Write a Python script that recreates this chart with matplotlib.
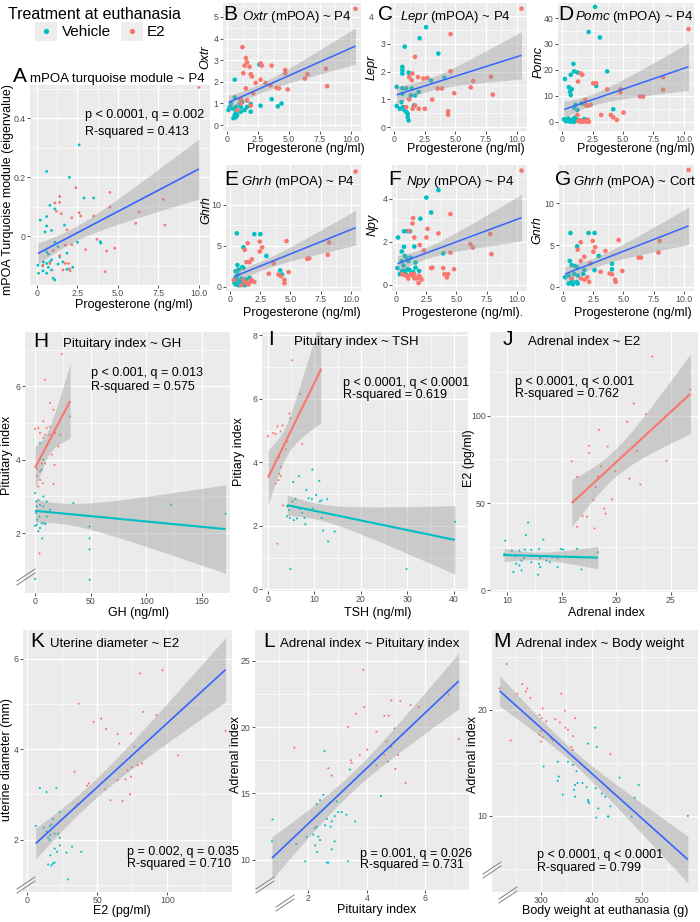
import numpy as np
import matplotlib
matplotlib.use('Agg')
import matplotlib.pyplot as plt
from matplotlib.lines import Line2D
from matplotlib.patches import Rectangle
from matplotlib.ticker import FixedLocator, FuncFormatter
from matplotlib.transforms import ScaledTranslation

plt.rcParams['font.family'] = ['Liberation Sans', 'DejaVu Sans']
plt.rcParams['mathtext.fontset'] = 'custom'
plt.rcParams['mathtext.it'] = 'Liberation Sans:italic'
plt.rcParams['mathtext.rm'] = 'Liberation Sans'

RED = '#F8766D'
CYAN = '#00BFC4'
BLUE = '#3366FF'
W, H = 700, 922

# ---- A: mPOA turquoise module ~ P4
a_veh_x = [2.6, 0.6, 2.0, 2.9, 3.5, 0.8, 1.1, 0.2, 0.6, 0.6, 0.5, 0.9, 1.7, 1.1, 1.3, 2.5, 3.9, 3.95, 0.6, 0.7,
           1.85, 1.4, 1.6, 0.4, 0.6, 0.8, 0.9, 0.06, 0.35, 0.7, 0.9, 0.37, 0.1, 0.6, 1.0, 1.1, 1.85, 2.2, 1.3]
a_veh_y = [0.31, 0.22, 0.20, 0.13, 0.13, 0.105, 0.093, 0.055, 0.067, 0.035, 0.015, 0.02, 0.038, -0.02, -0.035,
           -0.02, -0.018, -0.023, -0.053, -0.06, -0.057, -0.07, -0.087, -0.087, -0.092, -0.087, -0.08, -0.098,
           -0.10, -0.105, -0.114, -0.117, -0.125, -0.125, -0.142, -0.148, -0.112, -0.105, -0.094]
a_e2_x = [10.0, 2.4, 1.4, 1.1, 1.4, 1.2, 1.5, 2.6, 2.7, 2.15, 3.5, 4.5, 4.5, 7.8, 6.3, 6.1, 7.9, 1.85, 3.7, 3.0,
          4.8, 4.3, 4.2, 1.0, 1.4, 0.8, 0.37, 1.75, 1.6, 1.95, 2.0, 2.05, 2.15, 1.75]
a_e2_y = [0.505, 0.165, 0.135, 0.113, 0.115, 0.085, 0.077, 0.08, 0.069, 0.063, 0.069, 0.149, 0.099, 0.125, 0.083,
          0.044, 0.038, 0.022, -0.01, -0.045, -0.04, -0.05, -0.12, -0.048, -0.065, -0.092, -0.098, -0.092, -0.114,
          -0.092, -0.11, -0.117, -0.028, -0.03]

# ---- B: Oxtr
b_e2_x = [10.4, 1.23, 1.5, 1.6, 1.4, 1.8, 1.9, 2.0, 1.3, 2.7, 2.8, 3.6, 4.7, 4.7, 6.3, 6.5, 8.0, 8.1, 2.7, 2.3,
          3.1, 1.5, 2.1, 4.0, 4.2, 4.9, 3.5, 1.1, 1.6, 1.1, 0.8, 1.9]
b_e2_y = [5.37, 3.6, 3.1, 2.9, 2.75, 2.7, 2.35, 2.25, 2.4, 2.85, 2.75, 2.75, 2.55, 2.4, 2.15, 2.35, 2.6, 1.8, 2.1,
          1.95, 1.95, 1.7, 1.47, 1.72, 1.7, 1.65, 1.84, 1.0, 1.13, 1.2, 0.7, 0.9]
b_veh_x = [0.6, 2.6, 3.6, 4.4, 4.1, 2.7, 0.6, 0.3, 0.1, 0.45, 0.7, 1.0, 1.1, 0.7, 0.6, 0.8, 1.1, 1.4, 1.6, 1.9,
           0.5, 0.7, 1.9, 1.2, 0.2, 1.05]
b_veh_y = [2.1, 2.8, 1.2, 1.0, 0.87, 0.9, 1.28, 1.0, 0.7, 0.77, 0.84, 0.98, 0.84, 0.62, 0.47, 0.47, 0.62, 0.7,
           0.84, 0.62, 0.32, 0.37, 0.98, 1.06, 0.84, 1.2]

# ---- C: Lepr
c_veh_x = [2.6, 0.85, 2.07, 3.6, 0.66, 0.66, 0.66, 1.17, 0.2, 0.66, 0.97, 1.43, 0.66, 1.35, 1.7, 1.99, 3.0, 4.1,
           0.2, 0.59, 0.7, 0.84, 1.0, 1.1, 1.1, 1.17, 0.46, 1.6]
c_veh_y = [3.6, 2.9, 3.2, 2.65, 2.17, 2.05, 1.93, 1.96, 1.45, 1.4, 1.39, 1.39, 1.2, 1.14, 1.14, 1.27, 1.68, 1.78,
           0.76, 0.9, 0.72, 0.6, 0.54, 0.48, 0.36, 0.24, 0.66, 0.78]
c_e2_x = [10.4, 1.7, 4.6, 1.48, 1.22, 1.43, 1.94, 2.37, 2.7, 3.55, 3.9, 3.1, 4.4, 4.4, 4.6, 4.9, 6.25, 6.46, 7.9,
          8.05, 0.97, 1.5, 1.7, 2.0, 2.5, 1.22]
c_e2_y = [4.27, 2.53, 3.35, 1.93, 1.8, 1.69, 1.8, 1.75, 1.77, 1.39, 1.39, 0.99, 0.57, 0.45, 2.01, 1.22, 1.43, 1.66,
          1.81, 1.17, 0.72, 0.66, 0.78, 0.66, 0.66, 1.0]

# ---- D: Pomc (dense cluster near zero includes overplotted points)
d_veh_x = [2.7, 2.17, 3.1, 0.92, 0.97, 1.25, 0.7, 0.22, 0.55, 0.78, 0.64, 0.7, 3.7, 2.8, 1.1, 0.97, 1.25, 1.6, 4.2,
           0.15, 0.55, 0.83, 0.97, 1.15, 1.4, 1.8, 1.95, 2.1, 0.97, 0.7, 0.3, 0.45, 0.6, 0.75, 0.9, 1.05, 1.2,
           1.35, 0.5, 1.0]
d_veh_y = [44.3, 34.6, 32.5, 22.3, 19.4, 19.0, 18.1, 16.5, 13.3, 12.5, 11.6, 10.3, 19.4, 13.8, 6.5, 5.4, 4.5, 7.1,
           4.8, 0.9, 0.4, 0.4, 0.9, 0.65, 0.4, 1.0, 0.65, 0.3, 0.0, 0.0, 0.2, 0.5, 0.2, 0.6, 0.3, 0.2, 0.8, 0.3,
           1.2, 1.5]
d_e2_x = [10.4, 1.5, 1.65, 1.3, 2.55, 2.8, 3.7, 4.8, 4.8, 6.4, 6.65, 8.3, 8.3, 1.9, 1.9, 2.1, 2.35, 1.25, 3.2, 4.0,
          4.2, 4.5, 5.05, 1.45, 1.7, 2.0, 2.2, 1.3, 1.6, 1.85, 2.1]
d_e2_y = [35.7, 18.7, 18.1, 15.5, 14.8, 14.8, 12.5, 12.5, 11.4, 9.7, 9.7, 17.2, 12.3, 8.4, 6.5, 6.1, 6.5, 2.6, 2.6,
          2.6, 1.7, 0.65, 3.5, 0.0, 0.0, 0.0, 0.0, 0.3, 0.5, 0.2, 0.8]

# ---- E: Ghrh
e_e2_x = [10.4, 1.2, 1.45, 2.45, 2.65, 2.45, 4.67, 8.2, 8.1, 6.4, 6.55, 1.8, 1.6, 1.35, 3.6, 4.0, 4.2, 4.85, 3.2,
          4.5, 4.5, 1.75, 2.0, 1.3, 0.3, 1.5, 1.1, 0.9, 1.65]
e_e2_y = [14.0, 4.5, 5.3, 5.5, 4.8, 4.3, 5.56, 5.4, 3.9, 3.4, 3.45, 3.35, 3.0, 3.0, 2.85, 1.5, 1.3, 1.8, 1.6, 0.85,
          0.45, 0.85, 0.6, 0.5, 0.85, 0.3, 0.8, 0.2, 0.6]
e_veh_x = [0.55, 2.0, 2.5, 1.1, 3.0, 1.0, 0.6, 0.45, 0.7, 1.1, 4.15, 4.3, 0.45, 0.6, 0.9, 1.1, 1.3, 1.6, 0.45, 0.7,
           1.0, 0.5, 0.8, 0.95, 1.2, 0.65, 0.35]
e_veh_y = [6.5, 6.4, 6.4, 4.8, 3.75, 2.4, 2.65, 1.9, 2.1, 2.3, 2.0, 1.5, 1.1, 0.9, 0.7, 0.5, 0.9, 1.1, 0.3, 0.2, 0.3,
           0.6, 0.4, 1.0, 0.2, 1.5, 0.5]

# ---- F: Npy
f_veh_x = [3.5, 2.9, 3.9, 0.15, 0.64, 0.9, 1.15, 2.5, 2.0, 1.5, 0.64, 0.46, 0.7, 0.85, 1.0, 1.2, 1.6, 0.1, 0.5, 0.7,
           0.95, 1.25, 1.6, 1.9, 0.3, 0.6, 0.8, 1.1, 1.4, 0.45]
f_veh_y = [4.4, 3.36, 1.46, 2.2, 2.49, 2.49, 2.49, 4.05, 3.07, 1.78, 1.77, 1.55, 1.35, 1.27, 1.1, 1.27, 1.04, 0.78,
           0.65, 0.65, 0.72, 0.56, 0.8, 0.65, 0.5, 0.9, 0.5, 0.7, 0.6, 1.1]
f_e2_x = [10.4, 4.5, 3.5, 4.5, 3.0, 3.9, 4.0, 4.2, 4.3, 4.8, 6.15, 6.36, 7.8, 7.9, 1.4, 1.35, 1.05, 1.5, 1.95, 2.3,
          2.6, 2.5, 0.5, 0.9, 1.2, 1.5, 1.9, 2.0, 1.85, 2.1, 1.5, 2.9, 0.7, 1.0, 1.3, 1.7]
f_e2_y = [5.3, 3.29, 2.39, 1.5, 0.8, 0.78, 0.5, 0.35, 0.5, 0.73, 1.89, 1.73, 2.36, 1.43, 3.1, 2.85, 2.5, 2.2, 1.85,
          1.6, 2.6, 2.2, 0.5, 0.42, 0.5, 0.5, 0.42, 0.34, 0.09, 0.25, 0.31, 0.78, 0.45, 0.3, 0.45, 0.3]

# ---- G: Gnrh
g_veh_x = [0.6, 2.1, 2.6, 1.15, 2.95, 0.55, 0.7, 0.95, 1.15, 2.6, 4.05, 4.05, 0.15, 0.45, 0.9, 1.2, 1.65, 1.75, 0.7,
           1.1, 0.45, 0.8, 1.2]
g_veh_y = [6.45, 6.45, 6.45, 4.85, 3.7, 3.1, 2.6, 2.5, 2.35, 2.0, 2.75, 2.1, 1.15, 1.35, 1.55, 1.35, 1.55, 2.0, 0.7,
           0.6, 0.4, 0.3, 0.4]
g_e2_x = [10.4, 1.45, 2.45, 2.65, 2.5, 4.6, 1.2, 3.5, 8.0, 7.9, 6.25, 6.45, 1.75, 1.45, 2.25, 3.1, 3.85, 4.05, 4.9,
          4.3, 4.35, 2.0, 1.75, 2.15, 0.7, 1.45]
g_e2_y = [14.0, 5.35, 5.5, 4.75, 4.2, 5.6, 4.45, 4.3, 5.5, 4.1, 3.5, 3.5, 3.6, 3.1, 2.8, 1.8, 1.6, 1.5, 1.9, 0.85,
          0.6, 1.15, 0.85, 0.6, 1.0, 1.0]

# ---- H: Pituitary index ~ GH
h_e2_x = [24, 9, 13.5, 16.5, 0, 3, 7.5, 10.5, 4.5, 7.5, 9, 13.5, 13, 18, 21, 22.5, 15, 17.5, 4, 6, 9, 2, 4.5, 1.5,
          4.5, 3, 7, 16.5, 4, 31.5]
h_e2_y = [6.88, 6.18, 5.55, 5.36, 4.84, 4.86, 5.05, 4.86, 4.73, 4.6, 4.68, 4.9, 4.68, 4.73, 4.36, 4.68, 4.14, 3.86,
          4.0, 3.9, 3.9, 3.75, 3.68, 3.55, 3.45, 3.27, 3.36, 3.34, 1.45, 5.18]
h_veh_x = [4.5, 7, 7.5, 6, 0, 1, 3, 7.5, 1.5, 4.5, 7.5, 10.5, 13.5, 1, 4, 6, 10.5, 2, 6, 8, 9.5, 1.5, 0, 4.5, 3, 6.5,
           34.5, 49, 49, 49, 49, 0, 122, 171]
h_veh_y = [4.45, 4.18, 4.0, 3.73, 3.09, 2.86, 2.9, 3.0, 2.73, 2.77, 2.73, 2.86, 2.64, 2.55, 2.45, 2.59, 2.45, 2.36,
           2.27, 2.27, 2.25, 2.23, 2.2, 2.14, 2.05, 1.86, 2.82, 2.18, 1.86, 1.56, 0.73, 0.75, 2.77, 2.53]

# ---- I: Pituitary index ~ TSH
i_e2_x = [5.3, 11.4, 7.0, 4.7, 4.9, 3.2, 2.1, 1.2, 0.1, 1.75, 2.8, 4.2, 7.4, 3.9, 2.5, 2.8, 2.5, 2.8, 2.3, 1.75,
          3.3, 2.1]
i_e2_y = [7.21, 6.92, 6.15, 5.54, 5.38, 5.16, 5.13, 4.92, 4.82, 4.89, 4.97, 4.65, 4.58, 4.41, 4.15, 3.85, 3.64, 3.56,
          3.44, 3.33, 2.64, 1.44]
i_veh_x = [9.6, 6.7, 11.1, 5.5, 8.3, 8.8, 9.5, 12.8, 10.4, 11.2, 11.6, 5.3, 4.2, 4.6, 6.0, 6.9, 9.7, 4.2, 4.8, 5.6,
           6.3, 7.9, 8.1, 7.4, 11.6, 11.9, 14.4, 13.0, 4.9, 29.8, 40.2]
i_veh_y = [3.77, 3.56, 3.42, 3.38, 3.13, 2.87, 2.84, 2.84, 2.97, 2.77, 2.8, 2.77, 2.61, 2.5, 2.84, 2.53, 2.55, 2.3,
           2.25, 2.18, 2.23, 2.25, 2.05, 2.41, 2.25, 1.85, 1.82, 1.51, 0.64, 0.64, 2.13]

# ---- J: Adrenal index ~ E2
j_e2_x = [23.3, 21.6, 22.7, 21.0, 17.5, 19.2, 17.5, 15.9, 21.9, 18.4, 24.6, 18.6, 19.9, 21.2, 16.4, 18.3, 22.2, 18.1,
          17.9, 19.6, 18.9, 19.0, 16.9, 17.3, 18.0, 16.4, 26.8]
j_e2_y = [134, 107, 101, 96.6, 82.8, 82.4, 78.6, 73.9, 79.9, 91.9, 74.2, 71.0, 68.2, 64.0, 65.0, 65.3, 60.6, 59.1,
          51.7, 52.1, 46.8, 43.9, 42.6, 42.2, 35.4, 36.4, 115]
j_veh_x = [11.9, 11.7, 13.3, 9.8, 9.7, 9.7, 10.4, 11.1, 11.6, 12.2, 12.9, 14.9, 15.1, 16.4, 18.3, 10.7, 11.5, 12.1,
           13.0, 13.5, 14.1, 14.6, 13.6, 12.9, 12.2, 11.3, 10.8, 11.1, 10.55, 11.3, 12.8, 13.0, 14.6, 16.8, 13.9]
j_veh_y = [38.8, 31.6, 29.0, 28.4, 20.8, 19.9, 22.7, 22.7, 23.3, 23.1, 23.7, 23.7, 23.3, 23.7, 21.8, 19.5, 18.4, 19.5,
           18.4, 19.5, 18.9, 18.4, 17.0, 15.2, 16.1, 17.0, 15.2, 14.2, 10.4, 11.4, 8.9, 13.3, 13.3, 11.9, 16.1]

# ---- K: Uterine diameter ~ E2
k_e2_x = [96.5, 80.4, 36.6, 82.7, 92.2, 52.7, 47.3, 141.4, 56.3, 64.5, 74, 65.7, 76.4, 107.6, 81.8, 78.7, 74.7, 71.6,
          33.8, 74, 70, 64.5, 44, 42.8, 55.8, 73.3, 59.3, 68, 35.5]
k_e2_y = [5.74, 5.67, 5.0, 4.82, 4.75, 4.67, 4.6, 4.4, 4.44, 4.33, 4.34, 4.12, 4.05, 3.86, 3.68, 3.64, 3.6, 3.53, 3.5,
          3.39, 3.33, 3.31, 3.24, 3.19, 3.11, 3.0, 2.87, 2.85, 2.78]
k_veh_x = [9, 13.7, 20.8, 23.2, 18.4, 17.3, 16, 11.8, 6.1, 13.7, 16.5, 19.6, 22, 23.2, 16, 14.9, 19.6, 23.2, 21.3, 32,
           28, 38.5, 16.5, 14.9, 17.3, 18.4, 19.6, 29]
k_veh_y = [3.14, 3.05, 3.14, 2.61, 2.45, 2.33, 2.3, 2.26, 2.3, 2.18, 2.1, 2.13, 2.13, 2.04, 1.99, 2.04, 1.8, 1.87,
           1.73, 1.84, 1.71, 1.73, 1.65, 1.45, 1.43, 1.47, 1.49, 1.12]

# ---- L: Adrenal index ~ Pituitary index
l_e2_x = [3.88, 3.91, 3.63, 4.84, 5.15, 5.5, 5.78, 6.8, 7.15, 4.6, 4.75, 3.36, 4.33, 4.95, 4.01, 1.52, 3.76, 4.67,
          4.84, 3.45, 3.48, 4.6, 5.07, 4.72, 4.33, 2.68, 4.98, 2.8, 5.33]
l_e2_y = [24.3, 21.5, 21.0, 22.0, 21.95, 21.65, 21.5, 22.45, 19.1, 20.85, 20.85, 20.0, 19.65, 19.9, 18.3, 18.45, 17.9,
          18.9, 18.5, 17.5, 17.3, 17.9, 17.9, 17.4, 17.1, 16.9, 16.85, 16.35, 15.8]
l_veh_x = [2.55, 0.77, 0.75, 3.42, 4.48, 2.51, 2.4, 2.28, 2.97, 3.02, 3.14, 3.3, 2.9, 2.63, 2.8, 2.57, 2.28, 2.23,
           3.6, 2.76, 2.17, 2.34, 1.94, 2.23, 2.4, 2.9, 2.8, 2.3, 1.89, 2.63, 2.68, 3.36, 1.58]
l_veh_y = [18.2, 13.05, 11.4, 16.8, 14.8, 14.9, 14.5, 14.2, 14.4, 13.6, 13.6, 13.4, 13.3, 13.1, 12.9, 12.6, 12.5, 12.4,
           12.9, 12.5, 11.9, 11.75, 11.75, 11.1, 11.5, 11.4, 10.8, 10.6, 9.9, 9.8, 9.8, 9.9, 11.2]

# ---- M: Adrenal index ~ Body weight
m_e2_x = [232, 263, 273, 253, 270, 279, 340, 240, 303, 297, 301, 310, 328, 347, 367, 337, 348, 353, 300, 308, 297, 303,
          319, 323, 300, 363, 360, 363, 437, 218]
m_e2_y = [24.3, 22.4, 22.0, 21.5, 21.7, 21.1, 21.5, 17.1, 20.1, 19.5, 19.2, 18.9, 19.1, 19.9, 19.2, 18.8, 18.3, 18.1,
          18.0, 17.95, 17.6, 17.4, 17.3, 17.1, 17.0, 17.5, 16.5, 16.2, 15.8, 22.0]
m_veh_x = [407, 393, 410, 305, 353, 363, 333, 335, 333, 370, 455, 493, 367, 372, 382, 390, 365, 343, 367, 420, 427, 408,
           393, 393, 395, 485, 437, 413, 433, 432, 409, 590, 479]
m_veh_y = [18.3, 16.8, 16.5, 14.65, 15.1, 14.8, 15.1, 13.7, 13.3, 14.2, 13.6, 12.9, 12.9, 13.1, 13.1, 12.7, 12.45, 12.0,
           11.8, 12.1, 11.8, 12.6, 11.5, 11.35, 11.2, 11.7, 10.9, 10.7, 9.94, 9.94, 9.85, 10.0, 9.94]

fig = plt.figure(figsize=(7, 9.22), dpi=100)


def fmt_dec(v, pos):
    return '0' if abs(v) < 1e-9 else f'{v:.1f}'


def fmt_int(v, pos):
    return f'{v:.0f}'


def panel(box, xlim, ylim, xticks, yticks, xfmt=fmt_int, yfmt=fmt_int):
    l, t, r, b = box
    ax = fig.add_axes([l / W, 1 - b / H, (r - l) / W, (b - t) / H])
    ax.set_facecolor('#EBEBEB')
    for s in ax.spines.values():
        s.set_visible(False)
    ax.set_xlim(xlim)
    ax.set_ylim(ylim)
    xt = np.asarray(xticks, float)
    yt = np.asarray(yticks, float)
    ax.xaxis.set_major_locator(FixedLocator(xt))
    ax.yaxis.set_major_locator(FixedLocator(yt))
    dx, dy = xt[1] - xt[0], yt[1] - yt[0]
    ax.xaxis.set_minor_locator(FixedLocator(np.arange(xt[0] - 4 * dx, xt[-1] + 4 * dx, dx) + dx / 2))
    ax.yaxis.set_minor_locator(FixedLocator(np.arange(yt[0] - 4 * dy, yt[-1] + 4 * dy, dy) + dy / 2))
    ax.xaxis.set_major_formatter(FuncFormatter(xfmt))
    ax.yaxis.set_major_formatter(FuncFormatter(yfmt))
    ax.grid(which='major', color='white', lw=0.9)
    ax.grid(which='minor', color='white', lw=0.45)
    ax.tick_params(which='major', length=2.2, width=0.6, color='#333333', labelsize=6.3,
                   labelcolor='#4D4D4D', pad=1.0)
    ax.tick_params(which='minor', length=0)
    ax.set_axisbelow(True)
    return ax


def labels(ax, box, xlabel, xpos, ylabel, ypos, yitalic=False):
    l, t, r, b = box
    ax.set_xlabel(xlabel, fontsize=9)
    ax.xaxis.set_label_coords((xpos[0] - l) / (r - l), (b - xpos[1]) / (b - t))
    ax.xaxis.label.set_va('center')
    ax.set_ylabel(ylabel, fontsize=9, fontstyle='italic' if yitalic else 'normal')
    ax.yaxis.set_label_coords((ypos[0] - l) / (r - l), (b - ypos[1]) / (b - t))
    ax.yaxis.label.set_va('center')


def smooth(ax, x, y, color, lw):
    x = np.asarray(x, float)
    y = np.asarray(y, float)
    n = len(x)
    slope, icpt = np.polyfit(x, y, 1)
    xs = np.linspace(x.min(), x.max(), 100)
    fit = icpt + slope * xs
    resid = y - (icpt + slope * x)
    s = np.sqrt(np.sum(resid ** 2) / (n - 2))
    sxx = np.sum((x - x.mean()) ** 2)
    se = s * np.sqrt(1 / n + (xs - x.mean()) ** 2 / sxx)
    tq = 1.96 + 2.4 / (n - 2)
    ax.fill_between(xs, fit - tq * se, fit + tq * se, color='#999999', alpha=0.4, lw=0, zorder=3)
    ax.plot(xs, fit, color=color, lw=lw, zorder=4, solid_capstyle='butt')


def points(ax, vx, vy, ex, ey, size):
    ax.scatter(vx, vy, s=size, color=CYAN, edgecolors='none', zorder=2)
    ax.scatter(ex, ey, s=size, color=RED, edgecolors='none', zorder=2)


def ftext(x, y, s, **kw):
    fig.text(x / W, 1 - y / H, s, **kw)


def title(letter, lx, rest, rx, base):
    ftext(lx, base, letter, fontsize=15, va='baseline')
    ftext(rx, base, rest, fontsize=9.5, va='baseline')


def stats(x, y1, y2, s1, s2, size=9):
    ftext(x, y1, s1, fontsize=size, va='baseline')
    ftext(x, y2, s2, fontsize=size, va='baseline')


def brk(cx, cy):
    for d in (-2.0, 2.0):
        fig.add_artist(Line2D([(cx - 9) / W, (cx + 9) / W], [1 - (cy + 6 + d) / H, 1 - (cy - 6 + d) / H],
                              transform=fig.transFigure, color='#808080', lw=0.7))


p4_ticks = [0, 2.5, 5.0, 7.5, 10.0]
p4_xlim = (-0.35, 10.85)
XL = 'Progesterone (ng/ml)'

# ---------------- A
box = (30, 85, 210, 285)
ax = panel(box, (-0.43, 10.68), (-0.165, 0.513), p4_ticks, [0, 0.2, 0.4], fmt_dec, fmt_dec)
points(ax, a_veh_x, a_veh_y, a_e2_x, a_e2_y, 4)
smooth(ax, a_veh_x + a_e2_x, a_veh_y + a_e2_y, BLUE, 1.2)
labels(ax, box, XL, (134, 305), 'mPOA Turquoise module (eigenvalue)', (8, 190))
title('A', 13, 'mPOA turquoise module ~ P4', 30, 82)
stats(85, 118, 135, 'p < 0.0001, q = 0.002', 'R-squared = 0.413')

# ---------------- B, C, D, E, F, G
small = [
    ((223, 3, 361, 131), (-0.27, 5.64), [0, 1, 2, 3, 4, 5], b_veh_x, b_veh_y, b_e2_x, b_e2_y,
     'Oxtr', (306, 149), (205, 57), 'B', 223, r'$\mathit{Oxtr}$ (mPOA) ~ P4', 242, 20, XL),
    ((390, 3, 527, 131), (-0.14, 4.47), [0, 1, 2, 3, 4], c_veh_x, c_veh_y, c_e2_x, c_e2_y,
     'Lepr', (466, 149), (372, 67), 'C', 378, r'$\mathit{Lepr}$ (mPOA) ~ P4', 400, 20, XL),
    ((558, 3, 694, 131), (-3.6, 45.8), [0, 10, 20, 30, 40], d_veh_x, d_veh_y, d_e2_x, d_e2_y,
     'Pomc', (636, 149), (539, 62), 'D', 558, r'$\mathit{Pomc}$ (mPOA) ~ P4', 575, 20, XL),
    ((226, 165, 361, 291), (-0.5, 14.8), [0, 5, 10], e_veh_x, e_veh_y, e_e2_x, e_e2_y,
     'Ghrh', (302, 313), (206, 210), 'E', 224, r'$\mathit{Ghrh}$ (mPOA) ~ P4', 241, 185, XL),
    ((392, 165, 527, 291), (-0.28, 5.56), [0, 2, 4], f_veh_x, f_veh_y, f_e2_x, f_e2_y,
     'Npy', (463, 313), (373, 225), 'F', 388, r'$\mathit{Npy}$ (mPOA) ~ P4', 406, 185, XL + '.'),
    ((559, 165, 694, 291), (-0.5, 14.6), [0, 5, 10], g_veh_x, g_veh_y, g_e2_x, g_e2_y,
     'Gnrh', (633, 313), (537, 230), 'G', 555, r'$\mathit{Ghrh}$ (mPOA) ~ Cort', 573, 185, XL),
]
small_axes = []
for (box, ylim, yt, vx, vy, ex, ey, ylab, xpos, ypos, let, lx, rest, rx, base, xlab) in small:
    ax = panel(box, p4_xlim, ylim, p4_ticks, yt, fmt_dec, fmt_int)
    points(ax, vx, vy, ex, ey, 11)
    smooth(ax, vx + ex, vy + ey, BLUE, 1.1)
    labels(ax, box, xlab, xpos, ylab, ypos, yitalic=True)
    title(let, lx, rest, rx, base)
    small_axes.append(ax)

# in C the top tick label sits to the left of the panel letter
top_lbl = small_axes[1].yaxis.get_major_ticks()[-1].label1
top_lbl.set_transform(top_lbl.get_transform() + ScaledTranslation(-12 / 100, 0, fig.dpi_scale_trans))

# ---------------- H
box = (25, 332, 230, 593)
ax = panel(box, (-9, 175), (0.37, 7.48), [0, 50, 100, 150], [2, 4, 6])
points(ax, h_veh_x, h_veh_y, h_e2_x, h_e2_y, 2.2)
smooth(ax, h_e2_x, h_e2_y, RED, 1.5)
smooth(ax, h_veh_x, h_veh_y, CYAN, 1.5)
labels(ax, box, 'GH (ng/ml)', (139, 613), 'Pituitary index', (7, 455))
title('H', 33, 'Pituitary index ~ GH', 63, 347)
stats(91, 376, 390, 'p < 0.001, q = 0.013', 'R-squared = 0.575')
brk(26, 577)

# ---------------- I
box = (262, 332, 468, 591)
ax = panel(box, (-1.2, 43), (-0.05, 8.1), [0, 10, 20, 30, 40], [0, 2, 4, 6, 8])
points(ax, i_veh_x, i_veh_y, i_e2_x, i_e2_y, 2.2)
smooth(ax, i_e2_x, i_e2_y, RED, 1.5)
smooth(ax, i_veh_x, i_veh_y, CYAN, 1.5)
labels(ax, box, 'TSH (ng/ml)', (378, 613), 'Pitiary index', (239, 452))
title('I', 268, 'Pituitary index ~ TSH', 294, 345)
stats(343, 386, 398, 'p < 0.0001, q < 0.0001', 'R-squared = 0.619')

# ---------------- J
box = (490, 332, 698, 592)
ax = panel(box, (8.4, 27.5), (-1, 148), [10, 15, 20, 25], [0, 50, 100])
points(ax, j_veh_x, j_veh_y, j_e2_x, j_e2_y, 2.2)
smooth(ax, j_e2_x, j_e2_y, RED, 1.5)
smooth(ax, j_veh_x, j_veh_y, CYAN, 1.5)
labels(ax, box, 'Adrenal index', (606, 613), 'E2 (pg/ml)', (469, 458))
title('J', 503, 'Adrenal index ~ E2', 528, 345)
stats(515, 385, 397, 'p < 0.0001, q < 0.001', 'R-squared = 0.762')

# ---------------- K
box = (23, 630, 232, 892)
ax = panel(box, (-3, 146), (0.84, 6.63), [0, 50, 100], [2, 4, 6])
points(ax, k_veh_x, k_veh_y, k_e2_x, k_e2_y, 2.2)
smooth(ax, k_veh_x + k_e2_x, k_veh_y + k_e2_y, BLUE, 1.2)
labels(ax, box, 'E2 (pg/ml)', (122, 911), 'uterine diameter (mm)', (7, 760))
title('K', 30, 'Uterine diameter ~ E2', 50, 647)
stats(127, 855, 867, 'p = 0.002, q = 0.035', 'R-squared = 0.710')
brk(26, 885)

# ---------------- L
box = (255, 630, 469, 890)
ax = panel(box, (0.17, 7.5), (7.74, 27.3), [2, 4, 6], [10, 15, 20, 25])
points(ax, l_veh_x, l_veh_y, l_e2_x, l_e2_y, 2.2)
smooth(ax, l_veh_x + l_e2_x, l_veh_y + l_e2_y, BLUE, 1.2)
labels(ax, box, 'Pituitary index', (377, 910), 'Adrenal index', (236, 755))
title('L', 263, 'Adrenal index ~ Pituitary index', 280, 647)
stats(360, 857, 868, 'p = 0.001, q = 0.026', 'R-squared = 0.731')
brk(265, 885)
brk(285, 903)

# ---------------- M
box = (492, 630, 698, 892)
ax = panel(box, (203, 610), (2.83, 27.5), [300, 400, 500], [10, 20])
points(ax, m_veh_x, m_veh_y, m_e2_x, m_e2_y, 2.2)
smooth(ax, m_veh_x + m_e2_x, m_veh_y + m_e2_y, BLUE, 1.2)
labels(ax, box, 'Body weight at euthanasia (g)', (605, 911), 'Adrenal index', (473, 755))
title('M', 493, 'Adrenal index ~ Body weight', 516, 647)
stats(537, 858, 871, 'p < 0.0001, q < 0.0001', 'R-squared = 0.799')
brk(492, 870)
brk(508, 895)

# ---------------- legend
ftext(8, 19, 'Treatment at euthanasia', fontsize=11.5, va='baseline')
for kx, col, lab, tx in [(35, CYAN, 'Vehicle', 62), (121, RED, 'E2', 147)]:
    fig.add_artist(Rectangle((kx / W, 1 - 41 / H), 22 / W, 19 / H, transform=fig.transFigure,
                             color='#EDEDED', lw=0))
    fig.add_artist(Line2D([(kx + 11) / W], [1 - 31 / H], transform=fig.transFigure, marker='o',
                          ms=3.8, color=col, mec='none', ls='none'))
    ftext(tx, 36, lab, fontsize=11, va='baseline')

fig.savefig('out.png', dpi=100)
